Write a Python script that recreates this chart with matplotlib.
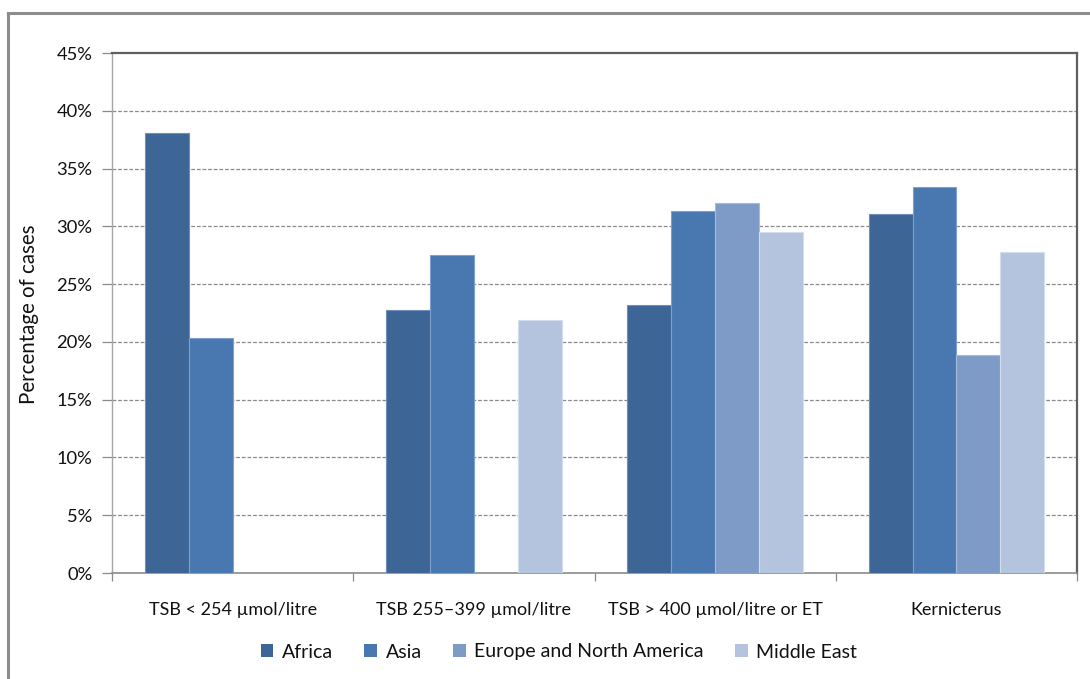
import matplotlib
matplotlib.use("Agg")
import matplotlib.pyplot as plt
from matplotlib.patches import Rectangle
from matplotlib.ticker import FuncFormatter
import numpy as np

plt.rcParams['font.family'] = ['Lato', 'DejaVu Sans']

categories = ["TSB < 254 \u00b5mol/litre", "TSB 255\u2013399 \u00b5mol/litre",
              "TSB > 400 \u00b5mol/litre or ET", "Kernicterus"]
regions = ["Africa", "Asia", "Europe and North America", "Middle East"]
africa = [38.1, 22.8, 23.2, 31.1]
asia = [20.3, 27.5, 31.3, 33.4]
europe_na = [0.0, 0.0, 32.0, 18.9]
middle_east = [0.0, 21.9, 29.5, 27.8]
y_ticks = [0, 5, 10, 15, 20, 25, 30, 35, 40, 45]

series = [africa, asia, europe_na, middle_east]
colors = ["#3d6596", "#4978b0", "#7e9bc8", "#b5c4de"]
edges = ["#6f8fb8", "#7fa0cc", "#a6bbdb", "#d3ddee"]

W, H = 1090, 679
fig = plt.figure(figsize=(W / 100, H / 100), dpi=100)

# outer chart frame (only top and left edges fall inside the canvas)
fig.add_artist(plt.Line2D([8 / W, 8 / W], [0, 1 - 13 / H], transform=fig.transFigure,
                          color="#8c8c8c", lw=2.2))
fig.add_artist(plt.Line2D([8 / W, 1], [1 - 13 / H, 1 - 13 / H], transform=fig.transFigure,
                          color="#8c8c8c", lw=2.2))

left, right, top, bottom = 112, 1077, 53, 573
ax = fig.add_axes([left / W, 1 - bottom / H, (right - left) / W, (bottom - top) / H])

n = len(regions)
gap = 1.5
bw = 1.0 / (n + gap)
x = np.arange(len(categories))
for i, (vals, c, ec) in enumerate(zip(series, colors, edges)):
    offs = (i - (n - 1) / 2) * bw
    ax.bar(x + offs, vals, width=bw, color=c, edgecolor=ec, linewidth=0.8,
           label=regions[i], zorder=3)

ax.set_xlim(-0.5, len(categories) - 0.5)
ax.set_ylim(0, 45)
ax.set_yticks(y_ticks)
ax.yaxis.set_major_formatter(FuncFormatter(lambda v, p: f"{int(v)}%"))
for t in y_ticks[1:-1]:
    ax.axhline(t, color="#8a8a8a", lw=0.9, ls=(0, (3, 1.5)), zorder=1)

ax.set_xticks(x)
ax.set_xticklabels(categories)
ax.set_xticks(np.arange(-0.5, len(categories)), minor=True)
ax.tick_params(axis="x", which="major", length=0, pad=21, labelsize=13, labelcolor="#111111")
ax.tick_params(axis="x", which="minor", length=6, width=0.9, color="#8a8a8a", direction="out")
ax.tick_params(axis="y", length=7, width=0.9, color="#8a8a8a", direction="out",
               pad=7, labelsize=13.2, labelcolor="#111111")

for s in ["top", "right"]:
    ax.spines[s].set_color("#5f5f5f")
    ax.spines[s].set_linewidth(1.6)
ax.spines["left"].set_color("#a6a6a6")
ax.spines["left"].set_linewidth(1.0)
ax.spines["bottom"].set_color("#8a8a8a")
ax.spines["bottom"].set_linewidth(1.2)

fig.text(29 / W, 1 - 314 / H, "Percentage of cases", rotation=90, ha="center", va="center",
         fontsize=14.8, color="#111111")

handles = [Rectangle((0, 0), 1, 1, facecolor=c, edgecolor="none") for c in colors]
fig.legend(handles, regions, loc="center", bbox_to_anchor=(559 / W, 1 - 652 / H),
           ncol=4, frameon=False, fontsize=14, handlelength=0.65, handleheight=0.65,
           handletextpad=0.45, columnspacing=1.6, labelcolor="#111111")

fig.savefig("out.png", dpi=100)
